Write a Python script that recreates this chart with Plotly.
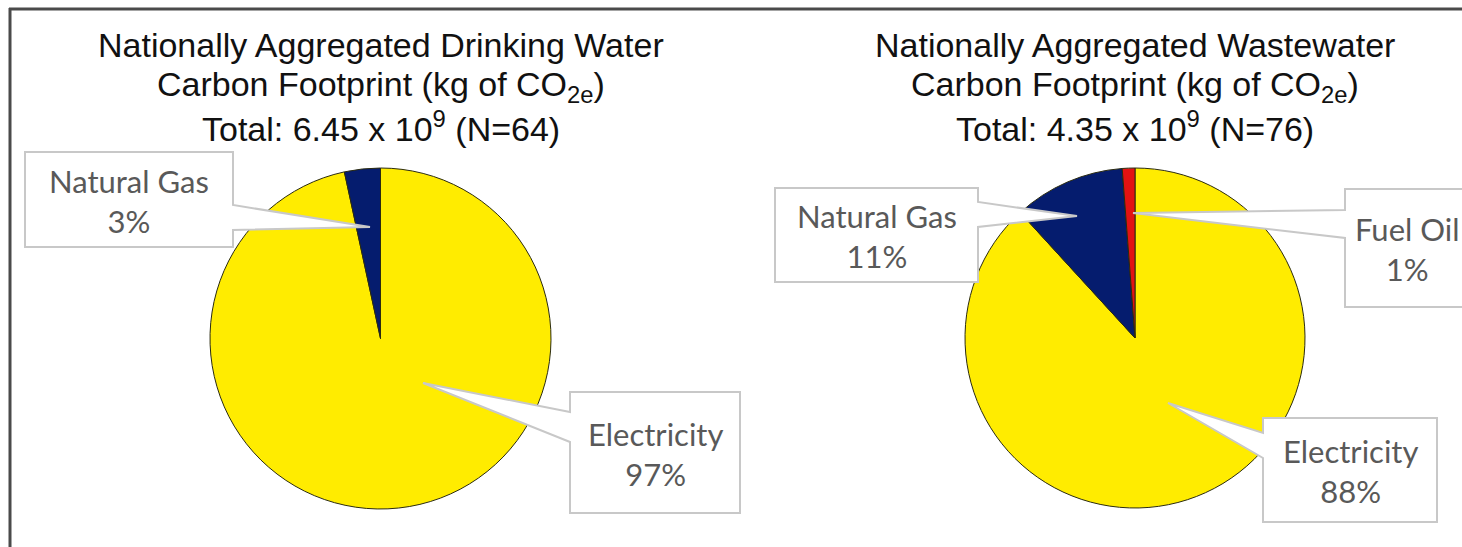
import plotly.graph_objects as go

# ---------------- data ----------------
dw_labels = ["Electricity", "Natural Gas"]
dw_values = [96.6, 3.4]
ww_labels = ["Electricity", "Natural Gas", "Fuel Oil"]
ww_values = [88.2, 10.6, 1.2]

dw_title = ["Nationally Aggregated Drinking Water",
            "Carbon Footprint (kg of CO<sub>2e</sub>)",
            "Total: 6.45 x 10<sup>9</sup> (N=64)"]
ww_title = ["Nationally Aggregated Wastewater",
            "Carbon Footprint (kg of CO<sub>2e</sub>)",
            "Total: 4.35 x 10<sup>9</sup> (N=76)"]

COLORS = {"Electricity": "#FFEC00", "Natural Gas": "#051C6E", "Fuel Oil": "#E31212"}

# ---------------- layout helpers ----------------
W, H = 1462, 547


def px(x):
    return x / W


def py(y):
    return 1 - y / H


fig = go.Figure()

pies = [
    (dw_labels, dw_values, (210, 551), (168, 509)),
    (ww_labels, ww_values, (965, 1305), (168, 508)),
]
for labels, values, (x0, x1), (y0, y1) in pies:
    fig.add_trace(go.Pie(
        labels=labels, values=values,
        marker=dict(colors=[COLORS[l] for l in labels],
                    line=dict(color="#2b2b10", width=1)),
        sort=False, direction="clockwise", rotation=0,
        textinfo="none", showlegend=False, hoverinfo="label+percent",
        domain=dict(x=[px(x0), px(x1)], y=[py(y1), py(y0)]),
    ))


def pct(values, i):
    return f"{round(values[i] / sum(values) * 100)}%"


# callouts: (label text, box l,t,r,b, side, pointer y0,y1, tip)
callouts = [
    (f"{dw_labels[1]}<br>{pct(dw_values, 1)}", (25, 152, 233, 247), "right", (205, 230), (370, 227)),
    (f"{dw_labels[0]}<br>{pct(dw_values, 0)}", (570, 392, 740, 513), "left", (412, 442), (423, 383)),
    (f"{ww_labels[1]}<br>{pct(ww_values, 1)}", (775, 188, 978, 282), "right", (202, 227), (1077, 216)),
    (f"{ww_labels[2]}<br>{pct(ww_values, 2)}", (1345, 189, 1470, 307), "left", (210, 238), (1133, 213)),
    (f"{ww_labels[0]}<br>{pct(ww_values, 0)}", (1263, 418, 1437, 522), "left", (433, 458), (1168, 403)),
]

shapes = []
annotations = []
for text, (l, t, r, b), side, (pa, pb), (tx, ty) in callouts:
    if side == "right":
        pts = [(l, t), (r, t), (r, pa), (tx, ty), (r, pb), (r, b), (l, b)]
    else:
        pts = [(l, t), (r, t), (r, b), (l, b), (l, pb), (tx, ty), (l, pa)]
    path = "M " + " L ".join(f"{px(x):.6f},{py(y):.6f}" for x, y in pts) + " Z"
    shapes.append(dict(type="path", path=path, xref="paper", yref="paper",
                       fillcolor="white", line=dict(color="#C8C8C8", width=2),
                       layer="above"))
    annotations.append(dict(text=text, x=px((l + r) / 2), y=py((t + b) / 2 + 1),
                            xref="paper", yref="paper", xanchor="center",
                            yanchor="middle", showarrow=False, align="center",
                            font=dict(family="Lato", size=31, color="#595959")))

title_line_y = [45, 87, 127]
for title, cx in [(dw_title, 381), (ww_title, 1135)]:
    for line, ly in zip(title, title_line_y):
        annotations.append(dict(text=line, x=px(cx), y=py(ly), xref="paper",
                                yref="paper", xanchor="center", yanchor="middle",
                                showarrow=False, align="center",
                                font=dict(family="Liberation Sans", size=34, color="#111111")))

# frame lines
shapes.append(dict(type="line", xref="paper", yref="paper", x0=px(9), x1=px(1462),
                   y0=py(9), y1=py(9), line=dict(color="#4a4a4a", width=3), layer="above"))
shapes.append(dict(type="line", xref="paper", yref="paper", x0=px(10), x1=px(10),
                   y0=py(8), y1=py(547), line=dict(color="#4a4a4a", width=3), layer="above"))

fig.update_layout(
    width=W, height=H, autosize=False,
    margin=dict(l=0, r=0, t=0, b=0),
    paper_bgcolor="white", plot_bgcolor="white",
    shapes=shapes, annotations=annotations,
)

fig.write_html("out.html")
